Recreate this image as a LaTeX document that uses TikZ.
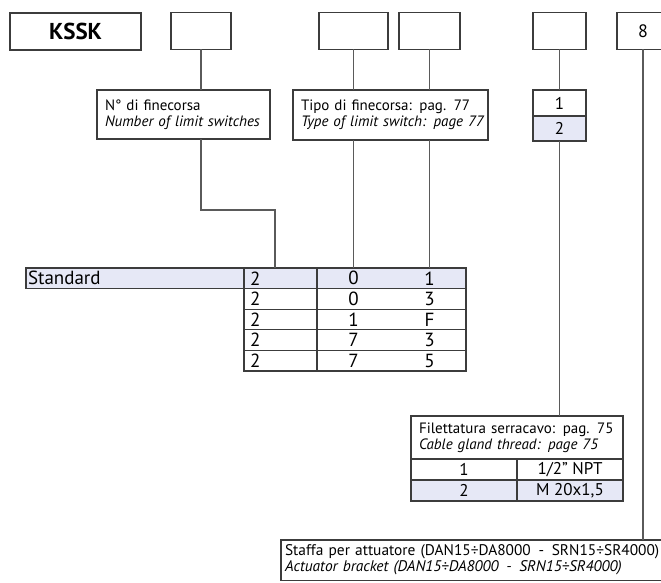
\documentclass[tikz,border=0pt]{standalone}
\usepackage{fontspec}
\setmainfont{PT Sans}
\usepackage{tikz}
\usetikzlibrary{positioning}

\definecolor{lav}{RGB}{230,232,246}
\definecolor{edge}{RGB}{60,60,60}
\definecolor{wirecol}{RGB}{90,90,90}
\newcommand{\lblpair}[2]{\mbox{#1}\\\mbox{\itshape #2}}

\begin{document}
\begin{tikzpicture}[
  x=1pt, y=-1pt,
  codebox/.style={draw=edge, line width=1.1pt, minimum height=37pt, inner sep=0pt, outer sep=0pt, font=\fontsize{18}{20}\selectfont},
  lbl/.style={draw=edge, line width=1.1pt, fill=white, align=left, inner xsep=8pt, inner ysep=0pt, outer sep=0pt, font=\fontsize{15}{16}\selectfont},
  opt/.style={draw=edge, line width=1.1pt, minimum width=53pt, inner sep=0pt, outer sep=0pt, font=\fontsize{17}{19}\selectfont},
  cell/.style={draw=edge, line width=1.1pt, minimum height=20.6pt, inner sep=0pt, outer sep=0pt, font=\fontsize{19}{20}\selectfont},
  tcell/.style={cell, minimum width=106pt, minimum height=21pt, font=\fontsize{17}{19}\selectfont},
  wire/.style={draw=wirecol, line width=1.1pt}
]
  \useasboundingbox (0,0) rectangle (661,583);
  \clip (0,0) rectangle (661,583);

  % Code boxes
  \node[codebox, minimum width=131pt, font=\fontsize{23}{26}\selectfont\bfseries] (kssk) at (75.5,31.5) {KSSK};
  \node[codebox, minimum width=60pt] (nsw) at (201,31) {};
  \node[codebox, minimum width=69pt] (typea) at (353.5,31) {};
  \node[codebox, minimum width=61pt] (typeb) at (429.5,31) {};
  \node[codebox, minimum width=53pt] (gland) at (559.5,31) {};
  \node[codebox, minimum width=52pt] (bracket) at (643,31) {8};

  % Labels
  \node[lbl, text width=157pt, minimum height=49pt] (numlbl) at (183.5,114.5)
    {\lblpair{N° di finecorsa}{Number of limit switches}};
  \node[lbl, text width=179pt, minimum height=50pt] (tipolbl) at (390.5,115)
    {\lblpair{Tipo di finecorsa: pag. 77}{Type of limit switch: page 77}};

  % Cable gland options
  \node[opt, minimum height=26pt] (g1) at (559.5,103) {1};
  \node[opt, minimum height=25pt, fill=lav, below=0pt of g1] (g2) {2};

  % Limit switch table
  \node[cell, fill=lav, anchor=north west, text width=214pt, inner xsep=2pt, align=left] (std) at (26,268) {Standard};
  \foreach \a/\b/\c/\f [count=\i] in {2/0/1/lav, 2/0/3/white, 2/1/F/white, 2/7/3/white, 2/7/5/white}{
    \node[cell, fill=\f, minimum width=73pt, anchor=north west] (ra\i) at (244,{268+(\i-1)*20.6}) {};
    \node[cell, fill=\f, minimum width=149pt, anchor=north west] (rb\i) at (317,{268+(\i-1)*20.6}) {};
    \node[font=\fontsize{19}{20}\selectfont, anchor=west, inner sep=0pt] at ([xshift=6pt]ra\i.west) {\a};
    \node[font=\fontsize{19}{20}\selectfont, inner sep=0pt] at (typea.center |- rb\i.center) {\b};
    \node[font=\fontsize{19}{20}\selectfont, inner sep=0pt] at (typeb.center |- rb\i.center) {\c};
  }
  \coordinate (tapn) at (275,268);

  % Thread table
  \node[lbl, anchor=north west, text width=196pt, minimum height=43pt] (thread) at (411,416)
    {\lblpair{Filettatura serracavo: pag. 75}{Cable gland thread: page 75}};
  \foreach \p/\q/\f [count=\i] in {1/{1/2” NPT}/white, 2/{M 20x1,5}/lav}{
    \node[tcell, fill=\f, anchor=north west] (ta\i) at (411,{459+(\i-1)*21}) {\p};
    \node[tcell, fill=\f, anchor=north west] (tb\i) at (517,{459+(\i-1)*21}) {\q};
  }

  % Bracket
  \node[lbl, anchor=north west, text width=400pt, inner xsep=4pt, inner ysep=5pt, font=\fontsize{15.4}{16}\selectfont] (staffa) at (281,540)
    {\lblpair{Staffa per attuatore (DAN15÷DA8000\enspace-\enspace SRN15÷SR4000)}{Actuator bracket (DAN15÷DA8000\enspace-\enspace SRN15÷SR4000)}};

  % Connectors
  \draw[wire] (nsw.south) -- (nsw.south |- numlbl.north);
  \draw[wire] (nsw.south |- numlbl.south) -- ++(0,71) -| (tapn);
  \draw[wire] (typea.south) -- (typea.south |- tipolbl.north);
  \draw[wire] (typea.south |- tipolbl.south) -- (typea.south |- rb1.north);
  \draw[wire] (typeb.south) -- (typeb.south |- tipolbl.north);
  \draw[wire] (typeb.south |- tipolbl.south) -- (typeb.south |- rb1.north);
  \draw[wire] (gland.south) -- (g1.north);
  \draw[wire] (g2.south) -- (g2.south |- thread.north);
  \draw[wire] (bracket.south) -- (bracket.south |- staffa.north);
\end{tikzpicture}
\end{document}
